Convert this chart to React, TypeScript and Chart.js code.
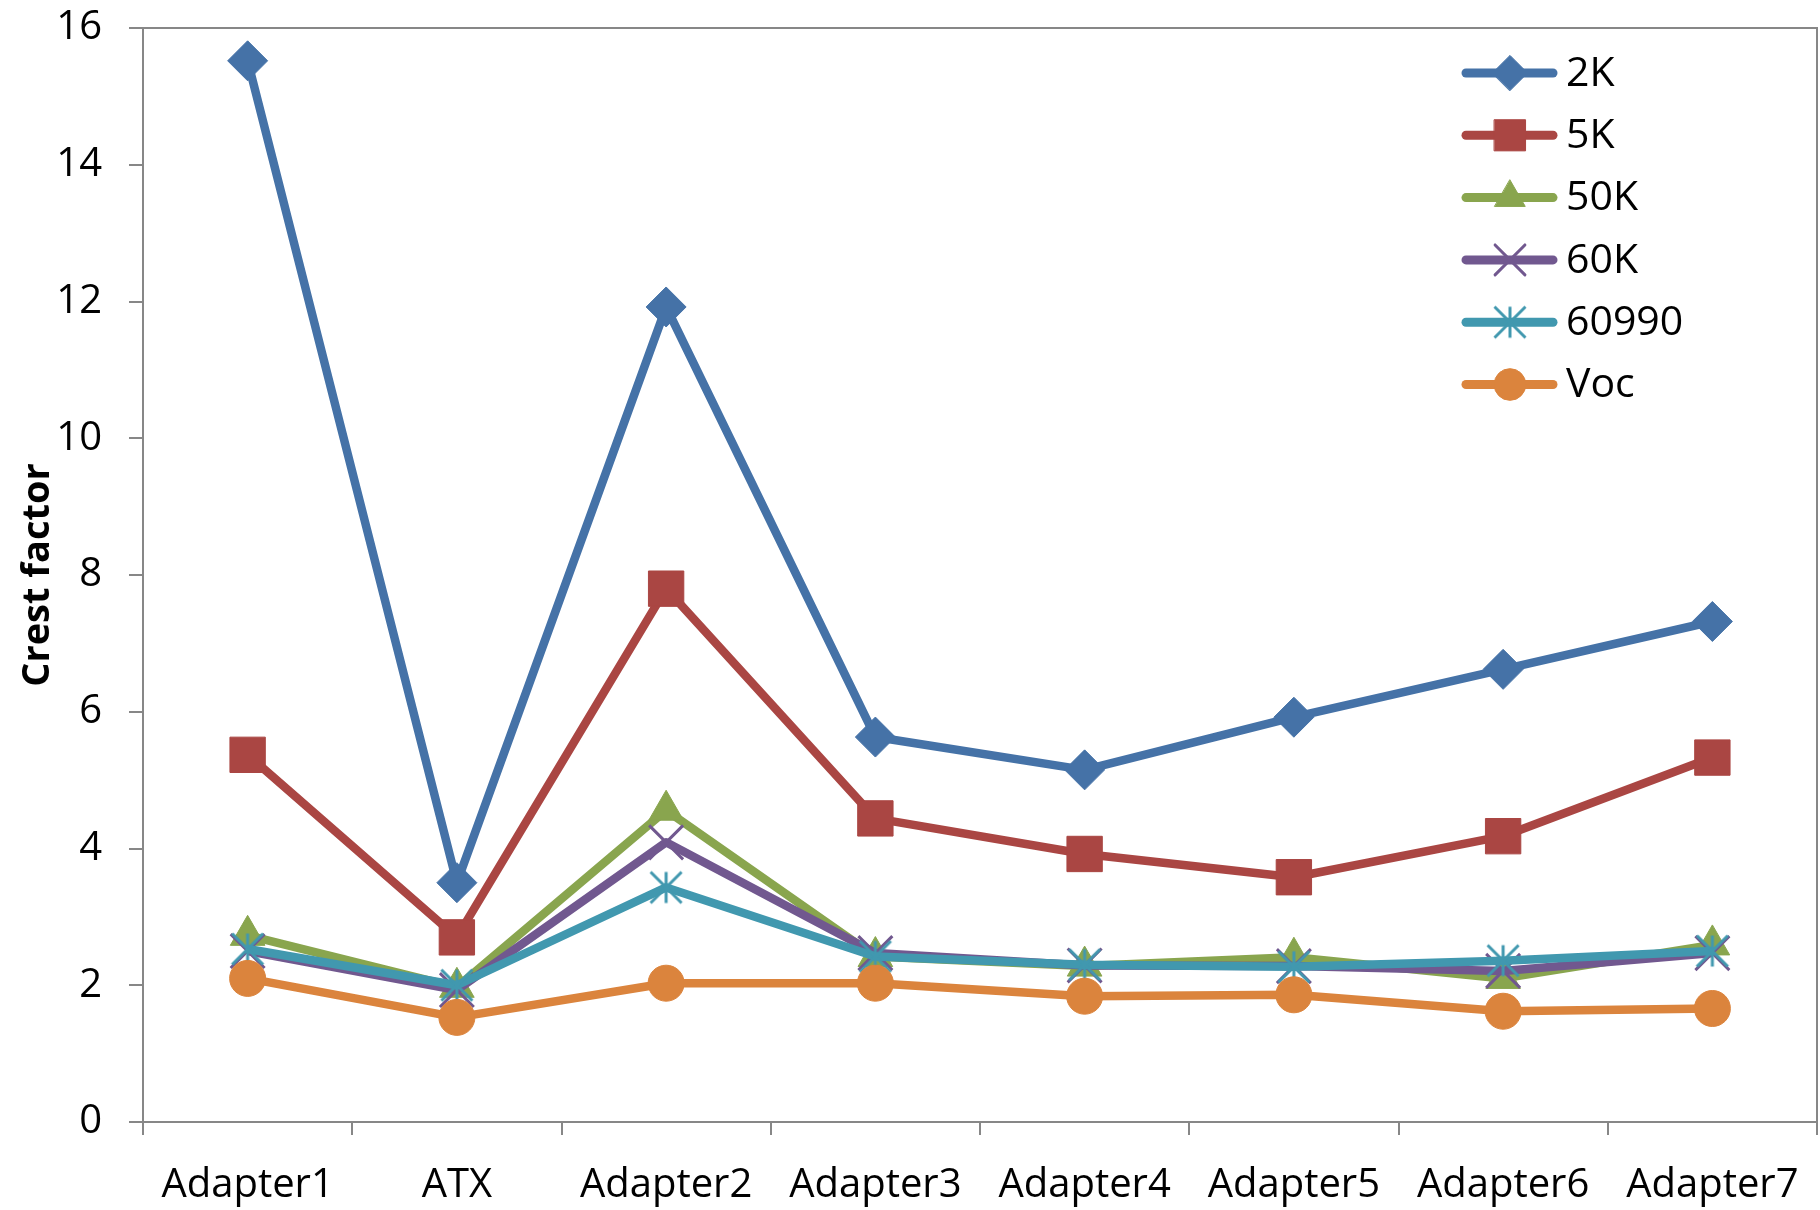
import { useEffect, useRef } from 'react';
import { Chart, registerables } from 'chart.js';
import { drawPoint } from 'chart.js/helpers';

Chart.register(...registerables);

// Categories along the x axis
const categories = ['Adapter1', 'ATX', 'Adapter2', 'Adapter3', 'Adapter4', 'Adapter5', 'Adapter6', 'Adapter7'];

// Crest factor per adapter for each load condition
const values2K = [15.52, 3.5, 11.92, 5.63, 5.15, 5.92, 6.62, 7.32];
const values5K = [5.37, 2.7, 7.8, 4.44, 3.92, 3.58, 4.18, 5.33];
const values50K = [2.73, 1.97, 4.56, 2.42, 2.28, 2.41, 2.1, 2.59];
const values60K = [2.5, 1.93, 4.09, 2.47, 2.29, 2.28, 2.21, 2.47];
const values60990 = [2.53, 2.0, 3.43, 2.42, 2.3, 2.27, 2.36, 2.5];
const valuesVoc = [2.1, 1.53, 2.03, 2.03, 1.84, 1.86, 1.62, 1.66];

const seriesNames = ['2K', '5K', '50K', '60K', '60990', 'Voc'];
const seriesValues = [values2K, values5K, values50K, values60K, values60990, valuesVoc];

// y axis range and step
const yMin = 0;
const yMax = 16;
const yStep = 2;

const yTitle = 'Crest factor';

const FONT = '"Open Sans", sans-serif';
const AXIS_GRAY = '#878787';
const LINE_WIDTH = 8.5;

// Excel-style asterisk marker: a vertical bar crossed by an X
function makeStarMarker(color: string, size: number, lw: number): HTMLCanvasElement {
  const c = document.createElement('canvas');
  c.width = size;
  c.height = size;
  const g = c.getContext('2d')!;
  g.strokeStyle = color;
  g.lineWidth = lw;
  g.lineCap = 'butt';
  const m = lw / 2 + 1;
  g.beginPath();
  g.moveTo(size / 2, m);
  g.lineTo(size / 2, size - m);
  g.moveTo(m, m);
  g.lineTo(size - m, size - m);
  g.moveTo(size - m, m);
  g.lineTo(m, size - m);
  g.stroke();
  return c;
}

const seriesStyles: { color: string; pointStyle: any; radius: number; pointBorderWidth: number }[] = [
  { color: '#4572A7', pointStyle: 'rectRot', radius: 20, pointBorderWidth: 1 },
  { color: '#AA4643', pointStyle: 'rect', radius: 25, pointBorderWidth: 1 },
  { color: '#89A54E', pointStyle: 'triangle', radius: 20, pointBorderWidth: 1 },
  { color: '#71588F', pointStyle: 'crossRot', radius: 24, pointBorderWidth: 3 },
  { color: '#4198AF', pointStyle: 'star', radius: 17, pointBorderWidth: 3 },
  { color: '#DB843D', pointStyle: 'circle', radius: 18, pointBorderWidth: 1 },
];

// Legend layout in the upper right of the plot
const LEGEND_LINE_X0 = 1466;
const LEGEND_LINE_X1 = 1553;
const LEGEND_MARK_X = 1510;
const LEGEND_TEXT_X = 1566;
const LEGEND_TOP = 73;
const LEGEND_STEP = 62.3;

const plotFramePlugin = {
  id: 'plotFrame',
  beforeDatasetsDraw(chart: any) {
    const { ctx, chartArea } = chart;
    ctx.save();
    ctx.strokeStyle = AXIS_GRAY;
    ctx.lineWidth = 2;
    ctx.beginPath();
    ctx.moveTo(chartArea.left, chartArea.top);
    ctx.lineTo(chartArea.right, chartArea.top);
    ctx.lineTo(chartArea.right, chartArea.bottom);
    ctx.stroke();
    ctx.restore();
  },
};

const sideLegendPlugin = {
  id: 'sideLegend',
  afterDraw(chart: any) {
    const { ctx } = chart;
    chart.data.datasets.forEach((ds: any, i: number) => {
      const y = LEGEND_TOP + i * LEGEND_STEP;
      ctx.save();
      ctx.strokeStyle = ds.borderColor;
      ctx.lineWidth = 9;
      ctx.lineCap = 'round';
      ctx.beginPath();
      ctx.moveTo(LEGEND_LINE_X0, y);
      ctx.lineTo(LEGEND_LINE_X1, y);
      ctx.stroke();
      ctx.fillStyle = ds.pointBackgroundColor;
      ctx.strokeStyle = ds.pointBorderColor;
      ctx.lineWidth = ds.pointBorderWidth;
      drawPoint(ctx, { pointStyle: ds.pointStyle, radius: ds.pointRadius * 0.88, rotation: 0, borderWidth: ds.pointBorderWidth }, LEGEND_MARK_X, y);
      ctx.fillStyle = '#000';
      ctx.font = `41px ${FONT}`;
      ctx.textAlign = 'left';
      ctx.textBaseline = 'middle';
      ctx.fillText(ds.label, LEGEND_TEXT_X, y + 1);
      ctx.restore();
    });
  },
};

export default function App() {
  const canvasRef = useRef<HTMLCanvasElement | null>(null);

  useEffect(() => {
    const canvas = canvasRef.current;
    if (!canvas) return;

    const datasets = seriesNames.map((name, i) => {
      const st = seriesStyles[i];
      const marker = st.pointStyle === 'star' ? makeStarMarker(st.color, 36, 3) : st.pointStyle;
      return {
        label: name,
        data: seriesValues[i],
        borderColor: st.color,
        backgroundColor: st.color,
        borderWidth: LINE_WIDTH,
        borderJoinStyle: 'round' as const,
        pointStyle: marker,
        pointRadius: st.radius,
        pointHoverRadius: st.radius,
        pointBackgroundColor: st.color,
        pointBorderColor: st.color,
        pointBorderWidth: st.pointBorderWidth,
        tension: 0,
        order: seriesNames.length - 1 - i,
        clip: false as const,
      };
    });

    const chart = new Chart(canvas, {
      type: 'line',
      data: { labels: categories, datasets },
      options: {
        responsive: false,
        animation: false,
        devicePixelRatio: 1,
        layout: { autoPadding: false, padding: { top: 28, right: 3, left: 0, bottom: 0 } },
        plugins: {
          legend: { display: false },
          tooltip: { enabled: false },
          title: { display: false },
        },
        scales: {
          x: {
            type: 'category',
            offset: true,
            grid: {
              offset: true,
              drawOnChartArea: false,
              drawTicks: true,
              tickLength: 13,
              color: AXIS_GRAY,
              lineWidth: 2,
            },
            border: { color: AXIS_GRAY, width: 2 },
            ticks: {
              color: '#000',
              font: { family: FONT, size: 40 },
              padding: 27,
              maxRotation: 0,
              autoSkip: false,
            },
            afterFit: (scale: any) => {
              scale.height = 88;
              scale.paddingLeft = 0;
              scale.paddingRight = 0;
            },
          },
          y: {
            min: yMin,
            max: yMax,
            grid: {
              drawOnChartArea: false,
              drawTicks: true,
              tickLength: 14,
              color: AXIS_GRAY,
              lineWidth: 2,
            },
            border: { color: AXIS_GRAY, width: 2 },
            ticks: {
              stepSize: yStep,
              color: '#000',
              font: { family: FONT, size: 40 },
              padding: 27,
            },
            title: {
              display: true,
              text: yTitle,
              color: '#000',
              font: { family: FONT, size: 38, weight: 'bold' },
              padding: { top: 15, bottom: 0 },
            },
            afterFit: (scale: any) => {
              scale.width = 143;
              scale.paddingTop = 0;
              scale.paddingBottom = 0;
            },
          },
        },
      },
      plugins: [plotFramePlugin, sideLegendPlugin],
    });

    return () => {
      chart.destroy();
    };
  }, []);

  return (
    <div style={{ position: 'fixed', left: 0, top: 0, width: 1820, height: 1210, background: '#fff' }}>
      <canvas ref={canvasRef} width={1820} height={1210} style={{ display: 'block' }} />
    </div>
  );
}
